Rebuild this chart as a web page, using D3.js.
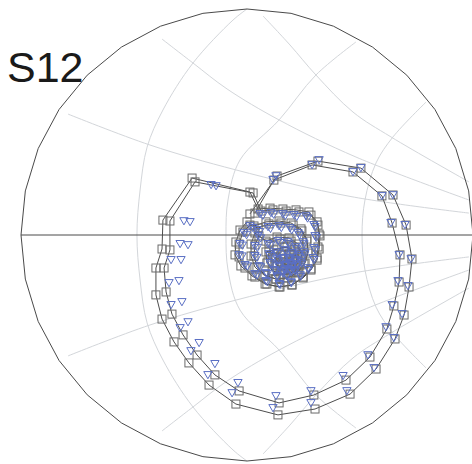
<!DOCTYPE html>
<html><head><meta charset="utf-8">
<script src="https://cdn.jsdelivr.net/npm/d3@7"></script>
<style>html,body{margin:0;background:#fff}svg{display:block}</style>
</head><body><svg id="chart" width="472" height="464"></svg>
<script>
// S12 traces in the reflection plane, [re, im]; the rim is |S12| full scale
const traceA = [
  [0.013,0.093],[0.133,0.261],[0.314,0.327],[0.504,0.296],[0.646,0.177],[0.704,0.044],
  [0.730,-0.106],[0.717,-0.230],[0.695,-0.354],[0.655,-0.460],[0.571,-0.593],[0.456,-0.704],
  [0.301,-0.770],[0.137,-0.796],[-0.049,-0.748],[-0.168,-0.664],[-0.257,-0.566],[-0.323,-0.473],
  [-0.376,-0.372],[-0.403,-0.265],[-0.403,-0.146],[-0.376,-0.062],[-0.372,0.066],[-0.243,0.252],
  [0.013,0.190],
  [0.049,0.115],[0.102,0.119],[0.159,0.115],[0.217,0.111],[0.274,0.102],[0.310,0.058],
  [0.319,0.004],[0.314,-0.053],[0.310,-0.102],[0.283,-0.150],[0.248,-0.186],[0.199,-0.221],
  [0.142,-0.230],[0.080,-0.217],[0.022,-0.181],[-0.027,-0.137],[-0.053,-0.088],[-0.049,-0.031],
  [-0.031,0.022],[0.000,0.058],
  [0.031,0.040],[0.084,0.058],[0.142,0.062],[0.195,0.053],[0.239,0.027],[0.265,-0.018],
  [0.270,-0.071],[0.257,-0.124],[0.226,-0.164],[0.181,-0.190],[0.128,-0.195],[0.075,-0.177],
  [0.035,-0.142],[0.018,-0.093],[0.018,-0.040],[0.035,0.009],
  [0.084,-0.027],[0.133,-0.009],[0.186,-0.013],[0.226,-0.040],[0.243,-0.084],[0.235,-0.133],
  [0.204,-0.164],[0.159,-0.173],[0.115,-0.159],[0.088,-0.124],[0.084,-0.075],
  [0.119,-0.066],[0.164,-0.053],[0.208,-0.066],[0.226,-0.106],[0.208,-0.142],[0.168,-0.155],
  [0.133,-0.137],[0.124,-0.102],
  [0.150,-0.088],[0.186,-0.084],[0.204,-0.111],[0.186,-0.133],[0.155,-0.128],[0.150,-0.106]
];
const traceB = [
  [0.035,0.097],[0.119,0.243],[0.288,0.310],[0.469,0.279],[0.597,0.173],[0.642,0.053],
  [0.677,-0.088],[0.673,-0.208],[0.650,-0.314],[0.619,-0.416],[0.544,-0.540],[0.438,-0.642],
  [0.296,-0.708],[0.142,-0.743],[-0.035,-0.690],[-0.142,-0.619],[-0.221,-0.531],[-0.283,-0.442],
  [-0.332,-0.350],[-0.358,-0.252],[-0.367,-0.146],[-0.341,-0.066],[-0.341,0.062],[-0.230,0.235],
  [0.027,0.186],
  [0.062,0.106],[0.115,0.111],[0.173,0.106],[0.230,0.102],[0.283,0.088],[0.314,0.044],
  [0.323,-0.004],[0.319,-0.062],[0.310,-0.111],[0.283,-0.155],[0.248,-0.190],[0.199,-0.221],
  [0.146,-0.230],[0.088,-0.217],[0.035,-0.186],[-0.009,-0.146],[-0.035,-0.097],[-0.035,-0.040],
  [-0.018,0.013],[0.013,0.044],
  [0.049,0.031],[0.097,0.049],[0.150,0.053],[0.204,0.044],[0.243,0.018],[0.265,-0.027],
  [0.270,-0.080],[0.252,-0.128],[0.221,-0.168],[0.177,-0.190],[0.128,-0.195],[0.080,-0.177],
  [0.044,-0.142],[0.031,-0.093],[0.035,-0.044],[0.053,-0.004],
  [0.097,-0.035],[0.146,-0.018],[0.195,-0.027],[0.230,-0.053],[0.243,-0.097],[0.230,-0.142],
  [0.195,-0.168],[0.150,-0.177],[0.111,-0.159],[0.093,-0.119],[0.097,-0.075],
  [0.133,-0.062],[0.177,-0.053],[0.212,-0.075],[0.221,-0.115],[0.199,-0.146],[0.159,-0.155],
  [0.133,-0.133],[0.128,-0.097],
  [0.159,-0.084],[0.190,-0.088],[0.199,-0.115],[0.177,-0.133],[0.155,-0.119]
];
const modelA = [
  [0.128,0.265],[0.319,0.336],[0.504,0.301],[0.646,0.181],[0.699,0.049],[0.726,-0.102],
  [0.712,-0.221],[0.686,-0.345],[0.650,-0.451],[0.562,-0.584],[0.442,-0.686],[0.283,-0.739],
  [0.115,-0.761],[-0.066,-0.695],[-0.173,-0.615],[-0.248,-0.509],[-0.296,-0.407],[-0.336,-0.305],
  [-0.345,-0.208],[-0.336,-0.106],[-0.296,-0.035],[-0.279,0.066],[-0.159,0.226],
  [0.058,0.097],[0.106,0.102],[0.159,0.097],[0.208,0.093],[0.261,0.088],[0.296,0.049],
  [0.301,0.000],[0.296,-0.053],[0.292,-0.097],[0.270,-0.142],[0.235,-0.173],[0.195,-0.204],
  [0.142,-0.212],[0.084,-0.199],[0.035,-0.168],[-0.009,-0.128],[-0.035,-0.084],[-0.031,-0.035],
  [-0.013,0.013],[0.013,0.044],
  [0.044,0.027],[0.093,0.040],[0.142,0.044],[0.190,0.035],[0.226,0.013],[0.248,-0.027],
  [0.252,-0.071],[0.239,-0.115],[0.212,-0.150],[0.177,-0.173],[0.133,-0.177],[0.084,-0.164],
  [0.053,-0.133],[0.035,-0.088],[0.035,-0.044],[0.049,0.000],
  [0.093,-0.035],[0.137,-0.022],[0.181,-0.027],[0.217,-0.049],[0.230,-0.084],[0.221,-0.124],
  [0.195,-0.155],[0.159,-0.159],[0.124,-0.150],[0.102,-0.119],[0.097,-0.080],
  [0.128,-0.071],[0.168,-0.062],[0.199,-0.075],[0.217,-0.106],[0.199,-0.133],[0.168,-0.146],
  [0.141,-0.133],[0.133,-0.102],
  [0.159,-0.097],[0.186,-0.097],[0.190,-0.119],[0.168,-0.128]
];
const modelB = [
  [0.115,0.248],[0.288,0.314],[0.469,0.283],[0.597,0.177],[0.637,0.058],[0.673,-0.084],
  [0.668,-0.199],[0.642,-0.305],[0.615,-0.403],[0.535,-0.527],[0.425,-0.619],[0.283,-0.686],
  [0.128,-0.708],[-0.040,-0.650],[-0.142,-0.566],[-0.212,-0.473],[-0.261,-0.381],[-0.288,-0.292],
  [-0.301,-0.199],[-0.292,-0.106],[-0.261,-0.040],[-0.252,0.062],[-0.137,0.221],
  [0.070,0.090],[0.118,0.095],[0.170,0.090],[0.220,0.085],[0.268,0.078],[0.301,0.040],
  [0.306,-0.008],[0.302,-0.062],[0.296,-0.106],[0.272,-0.150],[0.237,-0.180],[0.196,-0.208],
  [0.146,-0.216],[0.090,-0.204],[0.044,-0.174],[0.002,-0.134],[-0.022,-0.090],[-0.020,-0.042],
  [-0.002,0.004],[0.026,0.036],
  [0.056,0.018],[0.104,0.032],[0.152,0.036],[0.198,0.026],[0.232,0.004],[0.252,-0.036],
  [0.256,-0.080],[0.242,-0.122],[0.214,-0.156],[0.176,-0.178],[0.134,-0.182],[0.090,-0.168],
  [0.060,-0.138],[0.044,-0.096],[0.046,-0.052],[0.060,-0.010],
  [0.104,-0.042],[0.146,-0.030],[0.186,-0.036],[0.220,-0.058],[0.232,-0.092],[0.222,-0.130],
  [0.196,-0.160],[0.160,-0.166],[0.126,-0.156],[0.106,-0.126],[0.102,-0.088],
  [0.136,-0.078],[0.172,-0.068],[0.200,-0.082],[0.214,-0.112],[0.198,-0.138],[0.168,-0.150],
  [0.144,-0.138],[0.138,-0.108],
  [0.165,-0.100],[0.190,-0.104],[0.192,-0.124],[0.170,-0.132]
];

// chart grid: upper halves, mirrored about the real axis
const gridFan = [
  [[0.071,0.969],[0.190,0.841],[0.305,0.708],[0.469,0.544],[0.637,0.434],[0.982,0.235]],
  [[-0.376,0.867],[-0.239,0.761],[-0.088,0.646],[0.142,0.509],[0.482,0.345],[0.982,0.155]],
  [[-0.792,0.535],[-0.429,0.398],[-0.049,0.288],[0.460,0.170],[0.982,0.097]]
];
const gridArcs = [
  [[0,1],[-0.062,0.951],[-0.239,0.761],[-0.372,0.553],[-0.442,0.389],[-0.473,0.199],[-0.487,0]],
  [[0.482,0.854],[0.305,0.708],[0.142,0.509],[-0.031,0.332],[-0.084,0.155],[-0.093,0]],
  [[0.792,0.588],[0.646,0.434],[0.571,0.319],[0.522,0.155],[0.509,0]]
];

const svg = d3.select('#chart');
const cx = 247, cy = 235, R = 226;
const x = d3.scaleLinear().domain([-1, 1]).range([cx - R, cx + R]);
const y = d3.scaleLinear().domain([-1, 1]).range([cy + R, cy - R]);
const line = d3.line().x(d => x(d[0])).y(d => y(d[1]));
const smooth = d3.line().x(d => x(d[0])).y(d => y(d[1])).curve(d3.curveCatmullRom.alpha(0.5));
const mirror = pts => pts.map(p => [p[0], -p[1]]);

// grid
const g = svg.append('g').attr('fill', 'none').attr('stroke', '#d3d6da').attr('stroke-width', 1);
gridFan.forEach(pts => {
  g.append('path').attr('d', smooth(pts));
  g.append('path').attr('d', smooth(mirror(pts)));
});
gridArcs.forEach(pts => {
  g.append('path').attr('d', smooth(pts.concat(mirror(pts).reverse().slice(1))));
});

// outer boundary (polygonal) and real axis
const rim = d3.range(33).map(k => [Math.cos(k * Math.PI / 16), Math.sin(k * Math.PI / 16)]);
svg.append('path').attr('d', line(rim)).attr('fill', 'none').attr('stroke', '#4a4a4a').attr('stroke-width', 1);
svg.append('line').attr('x1', x(-1)).attr('x2', x(1)).attr('y1', y(0)).attr('y2', y(0))
  .attr('stroke', '#4a4a4a').attr('stroke-width', 1);

// traces
[traceA, traceB].forEach(t => {
  svg.append('path').attr('d', line(t)).attr('fill', 'none').attr('stroke', '#4d4d4d').attr('stroke-width', 1);
});
[traceA, traceB].forEach(t => {
  svg.append('g').selectAll('rect').data(t).join('rect')
    .attr('x', d => x(d[0]) - 4).attr('y', d => y(d[1]) - 4)
    .attr('width', 8).attr('height', 8)
    .attr('fill', 'none').attr('stroke', '#6a6a6a').attr('stroke-width', 1);
});
const tri = d3.symbol().type(d3.symbolTriangle).size(30);
[modelA, modelB].forEach(t => {
  svg.append('g').selectAll('path').data(t).join('path')
    .attr('d', tri)
    .attr('transform', d => `translate(${x(d[0])},${y(d[1])}) rotate(180)`)
    .attr('fill', 'none').attr('stroke', '#5a6fc4').attr('stroke-width', 1);
});

svg.append('text').attr('x', 7).attr('y', 82)
  .attr('font-family', 'Liberation Sans, Arial, sans-serif').attr('font-size', 43)
  .attr('fill', '#1a1a1a').text('S12');
</script></body></html>
